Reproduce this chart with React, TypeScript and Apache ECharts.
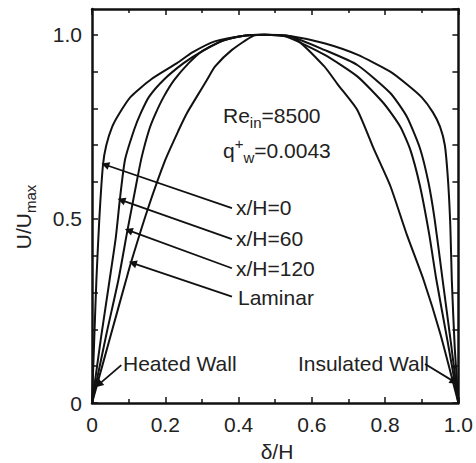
import React, { useEffect, useRef } from "react";
import * as echarts from "echarts";

const FONT = "'Liberation Sans', Arial, Helvetica, sans-serif";

// delta/H vs U/Umax
const xH0: [number, number][] = [
  [0, 0], [0.006, 0.17], [0.012, 0.334], [0.02, 0.5], [0.03, 0.647], [0.039, 0.7],
  [0.055, 0.75], [0.075, 0.787], [0.106, 0.832], [0.16, 0.878], [0.232, 0.923],
  [0.274, 0.952], [0.335, 0.982], [0.42, 0.998], [0.47, 1.0], [0.544, 0.996],
  [0.634, 0.977], [0.724, 0.946], [0.814, 0.9], [0.86, 0.865], [0.9, 0.83],
  [0.93, 0.79], [0.95, 0.75], [0.963, 0.7], [0.972, 0.6], [0.978, 0.48],
  [0.982, 0.334], [0.99, 0.15], [1, 0],
];
const xH60: [number, number][] = [
  [0, 0], [0.025, 0.18], [0.048, 0.334], [0.065, 0.45], [0.076, 0.552], [0.09, 0.66],
  [0.115, 0.742], [0.133, 0.787], [0.156, 0.832], [0.196, 0.878], [0.25, 0.923],
  [0.3, 0.955], [0.36, 0.985], [0.42, 0.998], [0.47, 1.0], [0.54, 0.996],
  [0.634, 0.959], [0.724, 0.918], [0.814, 0.842], [0.859, 0.778], [0.895, 0.692],
  [0.918, 0.6], [0.935, 0.5], [0.957, 0.334], [0.98, 0.16], [1, 0],
];
const xH120: [number, number][] = [
  [0, 0], [0.04, 0.19], [0.072, 0.334], [0.097, 0.47], [0.12, 0.59], [0.135, 0.665],
  [0.156, 0.742], [0.174, 0.787], [0.196, 0.832], [0.225, 0.878], [0.264, 0.923],
  [0.3, 0.955], [0.36, 0.985], [0.42, 0.998], [0.47, 1.0], [0.53, 0.995],
  [0.634, 0.946], [0.724, 0.887], [0.796, 0.814], [0.841, 0.751], [0.868, 0.69],
  [0.895, 0.59], [0.92, 0.46], [0.94, 0.334], [0.97, 0.17], [1, 0],
];
const laminar: [number, number][] = [
  [0, 0], [0.05, 0.18], [0.093, 0.334], [0.106, 0.38], [0.15, 0.52], [0.2, 0.66],
  [0.237, 0.742], [0.259, 0.787], [0.286, 0.832], [0.314, 0.878], [0.336, 0.914],
  [0.382, 0.959], [0.44, 0.997], [0.47, 1.0], [0.51, 0.998], [0.553, 0.991],
  [0.634, 0.914], [0.67, 0.866], [0.724, 0.796], [0.77, 0.688], [0.814, 0.59],
  [0.86, 0.455], [0.905, 0.334], [0.95, 0.19], [1, 0],
];

// annotation arrows: [from, to] in data coordinates
const arrows: [number, number][][] = [
  [[0.382, 0.529], [0.036, 0.647]],
  [[0.382, 0.445], [0.08, 0.551]],
  [[0.382, 0.366], [0.1, 0.469]],
  [[0.382, 0.289], [0.111, 0.38]],
  [[0.08, 0.103], [0.018, 0.05]],
  [[0.909, 0.106], [0.988, 0.058]],
];

const xTickStep = 0.2;
const yTickStep = 0.1;
const yLabelValues = [0, 5, 10];

const App: React.FC = () => {
  const ref = useRef<HTMLDivElement>(null);

  useEffect(() => {
    if (!ref.current) return;
    document.body.style.margin = "0";
    const chart = echarts.init(ref.current, undefined, { renderer: "svg" });

    const axisLine = { show: true, onZero: false, lineStyle: { color: "#111", width: 2.5 } };
    const axisTick = { show: true, inside: true, length: 6, lineStyle: { color: "#111", width: 1.5 } };
    const minorTick = { show: true, splitNumber: 2, length: 4, lineStyle: { color: "#111", width: 1.5 } };

    const xFmt = (v: number) => {
      const k = Math.round(v * 10);
      return k === 0 ? "0" : (k / 10).toFixed(1);
    };
    const yFmt = (v: number) => {
      const k = Math.round(v * 10);
      if (Math.abs(v - k / 10) > 1e-6) return "";
      if (!yLabelValues.includes(k)) return "";
      return k === 0 ? "0" : (k / 10).toFixed(1);
    };

    const curve = (name: string, data: [number, number][]) => ({
      name,
      type: "line",
      data,
      showSymbol: false,
      symbol: "none",
      smooth: 0.2,
      lineStyle: { color: "#111", width: 2 },
      xAxisIndex: 0,
      yAxisIndex: 0,
    });

    const FS = 21;
    const txt = (x: number, y: number, text: string, align: string, rich?: any, rotation?: number) => ({
      type: "text",
      x,
      y,
      rotation: rotation || 0,
      style: {
        text,
        fill: "#222",
        fontSize: FS,
        fontFamily: FONT,
        align,
        verticalAlign: "middle",
        rich,
      },
    });

    const mainR = { fontSize: FS, fontFamily: FONT, lineHeight: 29, color: "#222" };
    const subR = { fontSize: 15, fontFamily: FONT, lineHeight: 15, verticalAlign: "bottom", color: "#222" };
    const supR = { fontSize: 15, fontFamily: FONT, lineHeight: 15, verticalAlign: "top", color: "#222" };
    const rich = { m: mainR, s: subR, p: supR };

    chart.setOption({
      animation: false,
      backgroundColor: "#fff",
      grid: { left: 92, right: 14, top: 9, bottom: 60, show: false },
      xAxis: [
        {
          type: "value", min: 0, max: 1, interval: xTickStep, position: "bottom",
          axisLine, axisTick, minorTick, splitLine: { show: false }, minorSplitLine: { show: false },
          axisLabel: { formatter: xFmt, fontSize: FS, color: "#222", fontFamily: FONT, margin: 11 },
        },
        {
          type: "value", min: 0, max: 1, interval: xTickStep, position: "top",
          axisLine, axisTick, minorTick, splitLine: { show: false }, minorSplitLine: { show: false },
          axisLabel: { show: false },
        },
      ],
      yAxis: [
        {
          type: "value", min: 0, max: 1.07, interval: yTickStep, position: "left",
          axisLine, axisTick, splitLine: { show: false },
          axisLabel: { formatter: yFmt, fontSize: FS, color: "#222", fontFamily: FONT, margin: 10, showMaxLabel: false },
        },
        {
          type: "value", min: 0, max: 1.07, interval: yTickStep, position: "right",
          axisLine, axisTick, splitLine: { show: false }, axisLabel: { show: false },
        },
      ],
      series: [
        curve("x/H=0", xH0),
        curve("x/H=60", xH60),
        curve("x/H=120", xH120),
        curve("Laminar", laminar),
        {
          type: "lines",
          coordinateSystem: "cartesian2d",
          xAxisIndex: 0,
          yAxisIndex: 0,
          symbol: ["none", "triangle"],
          symbolSize: 8,
          lineStyle: { color: "#111", width: 1.8, opacity: 1 },
          data: arrows.map((c) => ({ coords: c })),
          z: 3,
        },
      ],
      graphic: [
        txt(223, 115, "{m|Re}{s|in}{m|=8500}", "left", rich),
        txt(223, 150, "{m|q}{p|+}{s|w}{m|=0.0043}", "left", rich),
        txt(236, 207, "x/H=0", "left"),
        txt(236, 238, "x/H=60", "left"),
        txt(236, 268, "x/H=120", "left"),
        txt(238, 297, "Laminar", "left"),
        txt(123, 363, "Heated Wall", "left"),
        txt(429, 363, "Insulated Wall", "right"),
        txt(277, 451, "δ/H", "center"),
        txt(23, 217, "{m|U/U}{s|max}", "center", rich, Math.PI / 2),
      ],
    });

    return () => chart.dispose();
  }, []);

  return <div ref={ref} style={{ width: 476, height: 463 }} />;
};

export default App;
